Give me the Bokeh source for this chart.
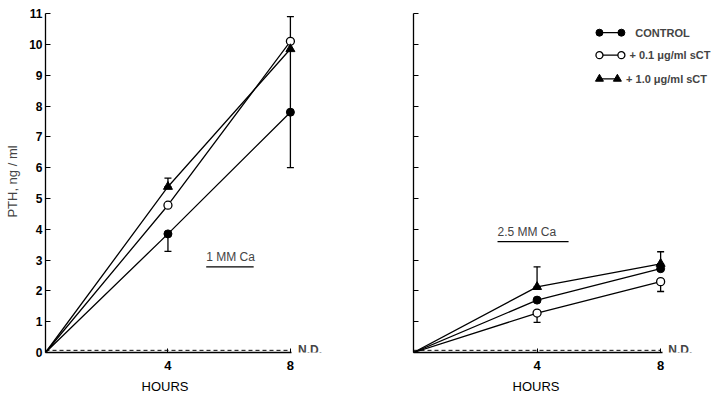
from bokeh.plotting import figure
from bokeh.layouts import row
from bokeh.models import Range1d, FixedTicker, Whisker, ColumnDataSource, Label, TeeHead, Title
from bokeh.embed import file_html
from bokeh.resources import INLINE

# ---------------- data ----------------
hours = [0, 4, 8]
y_ticks = list(range(0, 12))
x_ticks = [4, 8]
nd_level = 0.07

# 1 mM Ca panel
ctrl_1 = [0, 3.85, 7.8]
ctrl_1_lo = [0, 3.28, 6.0]
ctrl_1_hi = [0, 3.85, 10.9]
low_1 = [0, 4.78, 10.1]
low_1_lo = [0, 4.78, 10.1]
low_1_hi = [0, 4.78, 10.1]
high_1 = [0, 5.38, 9.85]
high_1_lo = [0, 5.38, 9.85]
high_1_hi = [0, 5.66, 9.85]

# 2.5 mM Ca panel
ctrl_2 = [0, 1.7, 2.72]
ctrl_2_lo = [0, 1.7, 2.72]
ctrl_2_hi = [0, 1.7, 2.72]
low_2 = [0, 1.28, 2.3]
low_2_lo = [0, 0.98, 1.98]
low_2_hi = [0, 1.28, 2.3]
high_2 = [0, 2.13, 2.88]
high_2_lo = [0, 2.13, 2.88]
high_2_hi = [0, 2.78, 3.27]

series_names = ["CONTROL", "+ 0.1 \u03bcg/ml sCT", "+ 1.0 \u03bcg/ml sCT"]
panel_titles = ["1 MM Ca", "2.5 MM Ca"]

FONT = "Liberation Sans"


def style(p, show_labels):
    p.outline_line_color = None
    p.xgrid.grid_line_color = None
    p.ygrid.grid_line_color = None
    p.background_fill_color = "white"
    p.border_fill_color = "white"
    xa = p.xaxis[0]
    xa.ticker = FixedTicker(ticks=x_ticks)
    xa.bounds = (0, 8.05)
    xa.major_tick_in = 4
    xa.major_tick_out = 0
    xa.minor_tick_line_color = None
    xa.major_label_standoff = 8
    xa.major_label_text_font = FONT
    xa.major_label_text_font_style = "bold"
    xa.major_label_text_font_size = "13px"
    xa.major_label_text_color = "black"
    xa.axis_line_color = "black"
    xa.axis_line_width = 1.3
    ya = p.yaxis[0]
    ya.ticker = FixedTicker(ticks=y_ticks)
    ya.bounds = (0, 11)
    ya.major_tick_in = 5
    ya.major_tick_out = 0
    ya.minor_tick_line_color = None
    ya.axis_line_color = "black"
    ya.axis_line_width = 1.3
    ya.major_label_standoff = 3
    ya.major_label_text_font = FONT
    ya.major_label_text_font_style = "bold"
    ya.major_label_text_font_size = "12px"
    ya.major_label_text_color = "black" if show_labels else None


def draw_panel(p, sets, title, tx0, tx1, ty, hours_offset):
    for (vals, lo, hi, kind) in sets:
        p.line(hours, vals, line_color="black", line_width=1.3)
        src = ColumnDataSource(dict(
            x=[h for h, a, b in zip(hours, lo, hi) if b > a],
            lower=[a for a, b in zip(lo, hi) if b > a],
            upper=[b for a, b in zip(lo, hi) if b > a]))
        w = Whisker(source=src, base="x", lower="lower", upper="upper",
                    line_color="black", line_width=1.3,
                    upper_head=TeeHead(size=7, line_color="black", line_width=1.3),
                    lower_head=TeeHead(size=7, line_color="black", line_width=1.3))
        p.add_layout(w)
    for (vals, lo, hi, kind) in sets:
        if kind == "filled":
            p.scatter(hours[1:], vals[1:], marker="circle", size=8,
                      fill_color="black", line_color="black")
        elif kind == "open":
            p.scatter(hours[1:], vals[1:], marker="circle", size=8,
                      fill_color="white", line_color="black", line_width=1.3)
        else:
            p.scatter(hours[1:], vals[1:], marker="triangle", size=9,
                      fill_color="black", line_color="black")
    # N.D. dashed line
    p.line([0, 8], [nd_level, nd_level], line_color="black", line_dash="4 3", line_width=1)
    p.add_layout(Label(x=8.25, y=nd_level, text="N.D.", text_font=FONT,
                       text_font_style="bold", text_font_size="12px",
                       text_baseline="middle", text_align="left"))
    # panel title, underlined
    p.add_layout(Label(x=tx0, y=ty, text=title, text_font=FONT,
                       text_font_size="12px", text_baseline="bottom", text_align="left"))
    p.line([tx0, tx1], [ty - 0.08, ty - 0.08], line_color="black", line_width=1.2)
    # HOURS
    p.add_layout(Title(text="HOURS", align="left", offset=hours_offset, standoff=9,
                       text_font=FONT, text_font_size="13px", text_font_style="normal",
                       text_color="black"), "below")


# ---------------- left panel ----------------
p1 = figure(width=330, height=398, x_range=Range1d(0, 9.31), y_range=Range1d(0, 11.1),
            output_backend="svg", toolbar_location=None,
            min_border_left=45, min_border_right=0, min_border_top=10, min_border_bottom=44)
style(p1, True)
p1.yaxis[0].axis_label = "PTH, ng / ml"
p1.yaxis[0].axis_label_text_font = FONT
p1.yaxis[0].axis_label_text_font_style = "normal"
p1.yaxis[0].axis_label_text_font_size = "13px"
p1.yaxis[0].axis_label_standoff = 6
draw_panel(p1, [(ctrl_1, ctrl_1_lo, ctrl_1_hi, "filled"),
                (low_1, low_1_lo, low_1_hi, "open"),
                (high_1, high_1_lo, high_1_hi, "tri")],
           panel_titles[0], 5.25, 6.8, 2.86, 96)

# ---------------- right panel ----------------
p2 = figure(width=395, height=398, x_range=Range1d(0, 10.1), y_range=Range1d(0, 11.1),
            output_backend="svg", toolbar_location=None,
            min_border_left=83, min_border_right=0, min_border_top=10, min_border_bottom=44)
style(p2, False)
draw_panel(p2, [(ctrl_2, ctrl_2_lo, ctrl_2_hi, "filled"),
                (low_2, low_2_lo, low_2_hi, "open"),
                (high_2, high_2_lo, high_2_hi, "tri")],
           panel_titles[1], 2.72, 5.02, 3.68, 99)

# legend (manual)
leg_x0 = [6.02, 6.02, 6.02]
leg_x1 = [6.73, 6.73, 6.6]
leg_y = [10.38, 9.65, 8.88]
kinds = ["filled", "open", "tri"]
text_x = [7.18, 6.99, 6.88]
for i in range(3):
    xs = [leg_x0[i], leg_x1[i]]
    p2.line(xs, [leg_y[i]] * 2, line_color="black", line_width=1.3)
    if kinds[i] == "filled":
        p2.scatter(xs, [leg_y[i]] * 2, marker="circle", size=7, fill_color="black", line_color="black")
    elif kinds[i] == "open":
        p2.scatter(xs, [leg_y[i]] * 2, marker="circle", size=7, fill_color="white",
                   line_color="black", line_width=1.3)
    else:
        p2.scatter(xs, [leg_y[i]] * 2, marker="triangle", size=8, fill_color="black", line_color="black")
    p2.add_layout(Label(x=text_x[i], y=leg_y[i], text=series_names[i], text_font=FONT,
                        text_font_style="bold", text_font_size="11px",
                        text_baseline="middle", text_align="left"))

layout = row(p1, p2, spacing=0)
open("out.html", "w").write(file_html(layout, INLINE))
